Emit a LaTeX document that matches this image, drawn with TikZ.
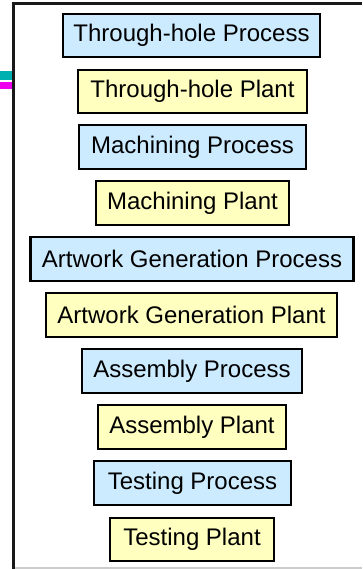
\documentclass[tikz,border=0pt]{standalone}
\usepackage{fontspec}
\setmainfont{Liberation Sans}
\definecolor{procblue}{HTML}{CCEBFF}
\definecolor{plantyellow}{HTML}{FFFFC0}
\definecolor{tabcyan}{HTML}{00B0B0}
\definecolor{tabmagenta}{HTML}{EE00EE}
\tikzset{
  stagebox/.style={draw=black, line width=2.4pt, minimum height=43.5pt, inner xsep=2pt,
    font=\fontsize{24}{28}\selectfont, text=black},
  procbox/.style={stagebox, fill=procblue},
  plantbox/.style={stagebox, fill=plantyellow},
}
\begin{document}
\begin{tikzpicture}[x=1pt, y=-1pt]
  \useasboundingbox (0,0) rectangle (362,569);
  \fill[white] (0,0) rectangle (362,569);
  % page frame
  \draw[line width=2.2pt, black!90] (13.5,3.5) -- (362,3.5);
  \draw[line width=2.2pt, black!90] (13.5,2.4) -- (13.5,569);
  \draw[line width=1.5pt, black!20] (14.6,568) -- (362,568);
  % colour tabs on the left margin
  \fill[tabcyan] (0,71) rectangle (12.4,80);
  \fill[tabmagenta] (0,82.5) rectangle (12.4,89);
  % process / plant stack
  \node[procbox,  minimum width=257pt] (p1)  at (191.5,35.5) {Through-hole Process};
  \node[plantbox, minimum width=229pt] (p2)  at (192.5,91.5) {Through-hole Plant};
  \node[procbox,  minimum width=227pt] (p3)  at (192.5,147) {Machining Process};
  \node[plantbox, minimum width=193pt] (p4)  at (192.5,203) {Machining Plant};
  \node[procbox,  minimum width=323pt] (p5)  at (192,259) {Artwork Generation Process};
  \node[plantbox, minimum width=291pt] (p6)  at (191.5,315) {Artwork Generation Plant};
  \node[procbox,  minimum width=220pt] (p7)  at (192,371) {Assembly Process};
  \node[plantbox, minimum width=188pt] (p8)  at (192,427) {Assembly Plant};
  \node[procbox,  minimum width=197pt] (p9)  at (192.5,483) {Testing Process};
  \node[plantbox, minimum width=164pt] (p10) at (192,539.5) {Testing Plant};
\end{tikzpicture}
\end{document}
